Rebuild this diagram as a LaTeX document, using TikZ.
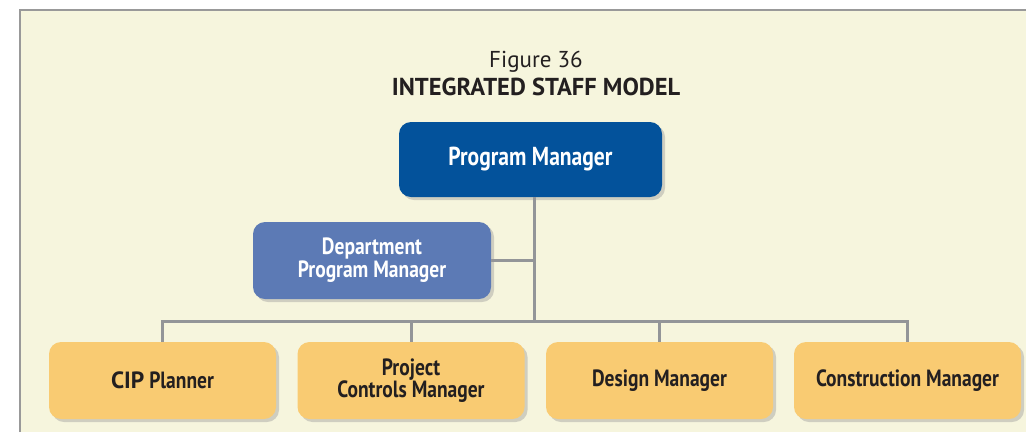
\documentclass[tikz,border=0pt]{standalone}
\usepackage{fontspec}
\setmainfont{PT Sans}
\newfontfamily\condfont[FakeStretch=0.83]{PT Sans}
\newfontfamily\widefont{PT Sans}
\usetikzlibrary{shadows}
\definecolor{bgyellow}{HTML}{F6F5DD}
\definecolor{framegray}{HTML}{999999}
\definecolor{linegray}{HTML}{939598}
\definecolor{pmblue}{HTML}{03529B}
\definecolor{deptblue}{HTML}{5C7AB5}
\definecolor{boxorange}{HTML}{F9CB72}
\definecolor{shadowgray}{HTML}{CFCEC0}
\definecolor{textdark}{HTML}{231F20}
\begin{document}
\begin{tikzpicture}[x=1pt,y=-1pt,
  orgbox/.style={rounded corners=12pt, inner sep=0pt, align=center,
    drop shadow={shadow xshift=3pt, shadow yshift=-3pt, fill=shadowgray, opacity=1}},
  topbox/.style={orgbox, fill=pmblue, text=white, minimum width=263pt, minimum height=75pt,
    font=\condfont\bfseries\fontsize{26}{28}\selectfont},
  deptbox/.style={orgbox, fill=deptblue, text=white, minimum width=238pt, minimum height=77pt,
    font=\condfont\bfseries\fontsize{23.5}{23}\selectfont},
  staffbox/.style={orgbox, fill=boxorange, text=textdark, minimum width=227pt, minimum height=77pt,
    font=\condfont\bfseries\fontsize{23.5}{22}\selectfont},
  link/.style={draw=linegray, line width=3pt}
]
\useasboundingbox (0,0) rectangle (1026,432);
\fill[bgyellow] (20,10) rectangle (1026,432);
\draw[framegray, line width=2pt] (20,432) -- (20,10) -- (1026,10);

\node[font=\fontsize{23}{26}\selectfont, text=textdark, anchor=base] (fig) at (536,67) {Figure 36};
\node[font=\bfseries\fontsize{24.5}{26}\selectfont, text=textdark, anchor=base] (title) at (536,95) {INTEGRATED STAFF MODEL};

\coordinate (busc) at (534,321);

\node[topbox] (pm) at (530.5,159.5) {Program Manager};
\node[deptbox] (dpm) at (372,260.5) {Department\\Program Manager};
\node[staffbox] (cip) at (162.5,380.5) {{\widefont\bfseries CIP} Planner};
\node[staffbox] (pcm) at (411,380.5) {Project\\Controls Manager};
\node[staffbox] (dm) at (659.5,380.5) {Design Manager};
\node[staffbox] (cm) at (907.5,380.5) {Construction Manager};

\draw[link] (pm.south -| busc) -- (busc);
\draw[link] (dpm.east) -- (dpm.east -| busc);
\draw[link] (cip.north) -- (cip.north |- busc) -- (cm.north |- busc) -- (cm.north);
\draw[link] (pcm.north |- busc) -- (pcm.north);
\draw[link] (dm.north |- busc) -- (dm.north);
\end{tikzpicture}
\end{document}
